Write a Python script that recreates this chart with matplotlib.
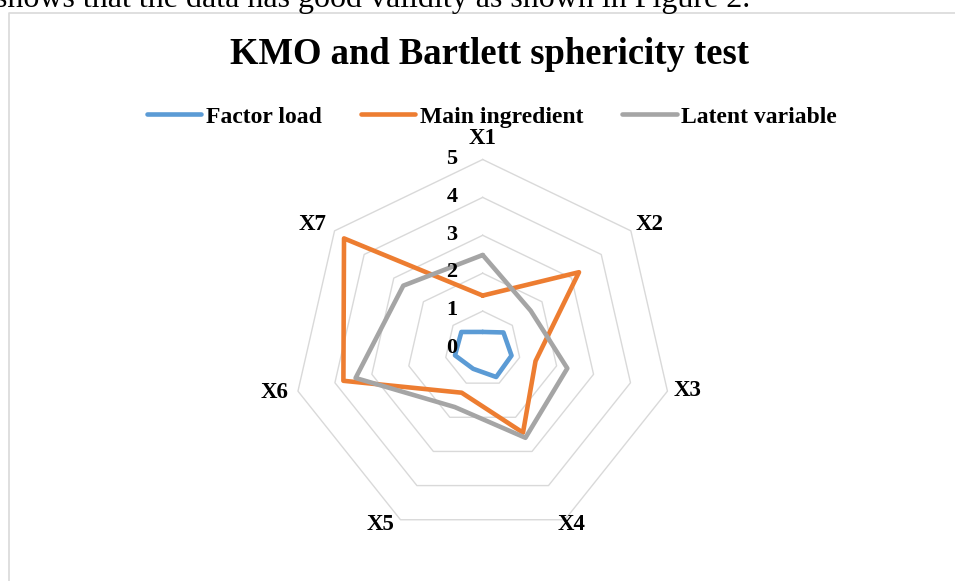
import numpy as np
import matplotlib
matplotlib.use("Agg")
import matplotlib.pyplot as plt

# data
categories = ["X1", "X2", "X3", "X4", "X5", "X6", "X7"]
factor_load = [0.45, 0.70, 0.78, 0.82, 0.58, 0.75, 0.72]
main_ingredient = [1.41, 3.25, 1.43, 2.45, 1.28, 3.77, 4.68]
latent_variable = [2.48, 1.62, 2.29, 2.60, 1.70, 3.44, 2.68]
series_names = ["Factor load", "Main ingredient", "Latent variable"]
ring_levels = [1, 2, 3, 4, 5]

colors = ["#5B9BD5", "#ED7D31", "#A5A5A5"]
grid_color = "#D9D9D9"

plt.rcParams["font.family"] = ["Liberation Serif", "DejaVu Serif"]

W, H = 955, 581
cx, cy = 482.7, 349.0      # centre of radar, pixels
unit = 37.9                # pixels per value unit

fig = plt.figure(figsize=(W / 100, H / 100), dpi=100)
ax = fig.add_axes([0, 0, 1, 1])
ax.set_xlim(-cx / unit, (W - cx) / unit)
ax.set_ylim(-(H - cy) / unit, cy / unit)
ax.axis("off")

def px(x, y):
    # pixel position -> data units
    return (x - cx) / unit, (cy - y) / unit

n = len(categories)
theta = np.pi / 2 - np.arange(n) * 2 * np.pi / n

def to_xy(vals):
    v = np.append(vals, vals[0])
    t = np.append(theta, theta[0])
    return v * np.cos(t), v * np.sin(t)

# heptagon grid
for r in ring_levels:
    gx, gy = to_xy(np.full(n, r))
    ax.plot(gx, gy, color=grid_color, lw=1.0, zorder=1)

# series
for vals, c, name in zip([factor_load, main_ingredient, latent_variable], colors, series_names):
    x, y = to_xy(np.array(vals))
    ax.plot(x, y, color=c, lw=3.3, label=name, zorder=3,
            solid_joinstyle="round", solid_capstyle="round")

# value labels on the vertical axis
for r in [0] + ring_levels:
    ax.text(-0.81, r + 0.02, str(r), ha="center", va="center",
            fontsize=16, fontweight="bold", zorder=4)

# category labels
label_px = [(482.7, 138), (650, 225), (687.3, 391), (572, 525),
            (380.6, 525), (275, 392.7), (313, 225)]
for lab, (lx, ly) in zip(categories, label_px):
    tx, ty = px(lx, ly)
    ax.text(tx, ty, lab, ha="center", va="center", fontsize=16.5,
            fontweight="bold")

# chart border (left and top)
bx0, by0 = px(9, 13.3)
bx1, by1 = px(W + 5, H + 5)
ax.plot([bx0, bx0, bx1], [by1, by0, by0], color=grid_color, lw=1.2,
        clip_on=False)

# title
fig.text(489.5 / W, 1 - 64 / H, "KMO and Bartlett sphericity test",
         ha="center", va="baseline", fontsize=26.4, fontweight="bold")

# legend
leg = ax.legend(loc="center", bbox_to_anchor=(492 / W, 1 - 117 / H),
                bbox_transform=fig.transFigure, ncol=3, frameon=False,
                prop={"weight": "bold", "size": 17}, handlelength=2.3,
                handletextpad=0.2, columnspacing=1.65)
for h in leg.get_lines():
    h.set_linewidth(3.3)
    h.set_solid_capstyle("round")

# clipped sentence of the surrounding document
fig.text(750 / W, 1 - 7.5 / H,
         "shows that the data has good validity as shown in Figure 2.",
         ha="right", va="baseline", fontsize=23)

fig.savefig("out.png", dpi=100)
